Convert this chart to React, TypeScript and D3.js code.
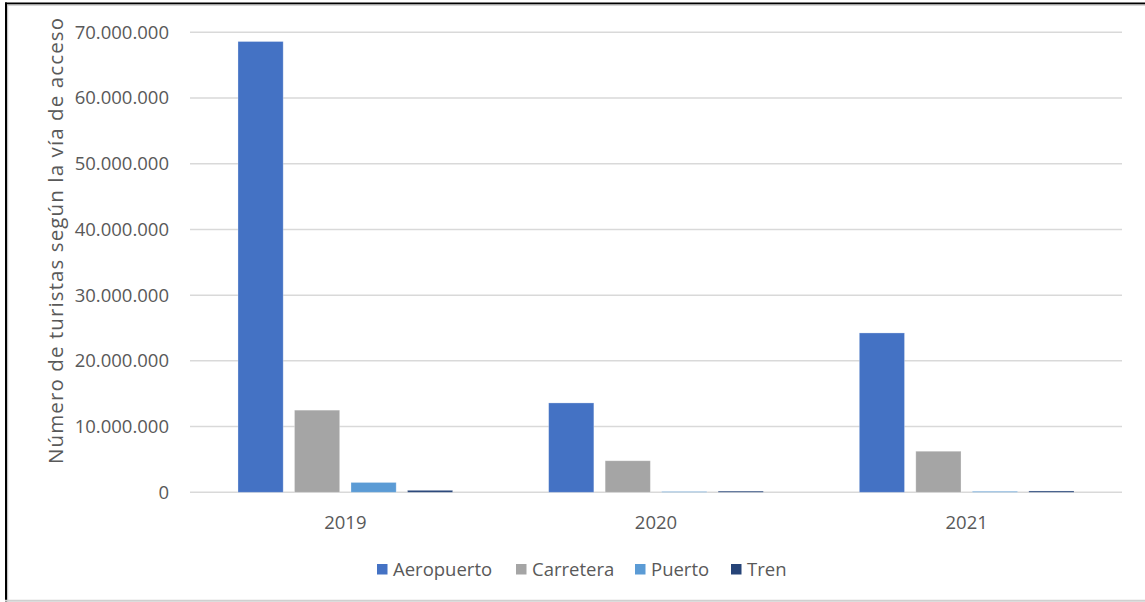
import React from "react";
import * as d3 from "d3";

const years = ["2019", "2020", "2021"];
const seriesNames = ["Aeropuerto", "Carretera", "Puerto", "Tren"];
const aeropuerto = [68600000, 13600000, 24250000];
const carretera = [12500000, 4800000, 6250000];
const puerto = [1500000, 120000, 150000];
const tren = [300000, 180000, 200000];
const yTicks = [0, 10000000, 20000000, 30000000, 40000000, 50000000, 60000000, 70000000];
const colors = ["#4472C4", "#A5A5A5", "#5B9BD5", "#264478"];
const yTitle = "Número de turistas según la vía de acceso";

const W = 1145;
const H = 602;
const plot = { left: 190, right: 1122, top: 32.3, bottom: 492.3 };
const font = "'Open Sans', 'Liberation Sans', sans-serif";
const textColor = "#595959";

export default function App() {
  const values = [aeropuerto, carretera, puerto, tren];
  const x0 = d3.scaleBand<string>().domain(years).range([plot.left, plot.right]).padding(0);
  const groupW = 214.7;
  const off = (x0.bandwidth() - groupW) / 2;
  const x1 = d3
    .scaleBand<string>()
    .domain(seriesNames)
    .range([off, off + groupW])
    .paddingInner(0.2)
    .paddingOuter(0);
  const y = d3.scaleLinear().domain([0, 70000000]).range([plot.bottom, plot.top]);
  const fmt = (v: number) =>
    v === 0 ? "0" : d3.format(",")(v).replace(/,/g, ".");

  const legendX = [377, 516, 635, 731];

  return (
    <svg
      width={W}
      height={H}
      style={{ position: "absolute", left: 0, top: 0, background: "#fff" }}
      fontFamily={font}
    >
      <rect x={0} y={0} width={W} height={H} fill="#fff" />
      {/* frame */}
      <line x1={5} x2={W} y1={3.5} y2={3.5} stroke="#000" strokeWidth={2} />
      <line x1={7} x2={W} y1={5.2} y2={5.2} stroke="#c8c8c8" strokeWidth={1.2} />
      <line x1={6} x2={6} y1={2.5} y2={H} stroke="#000" strokeWidth={2} />
      <line x1={7.6} x2={7.6} y1={5} y2={H} stroke="#c8c8c8" strokeWidth={1.2} />
      <line x1={5} x2={W} y1={600.8} y2={600.8} stroke="#d0d0d0" strokeWidth={2} />

      {/* gridlines */}
      {yTicks.map((t) => (
        <g key={t}>
          <line
            x1={plot.left}
            x2={plot.right}
            y1={y(t)}
            y2={y(t)}
            stroke="#d9d9d9"
            strokeWidth={1.5}
          />
          <text
            x={169}
            y={y(t)}
            dy="0.35em"
            textAnchor="end"
            fontSize={18.5}
            fill={textColor}
          >
            {fmt(t)}
          </text>
        </g>
      ))}

      {/* bars */}
      {years.map((yr, i) => (
        <g key={yr} transform={`translate(${x0(yr)},0)`}>
          {seriesNames.map((s, j) => {
            const v = values[j][i];
            return (
              <rect
                key={s}
                x={x1(s)}
                y={y(v)}
                width={x1.bandwidth()}
                height={plot.bottom - y(v)}
                fill={colors[j]}
                stroke="#ffffff"
                strokeOpacity={0.35}
                strokeWidth={0.8}
              />
            );
          })}
          <text
            x={x0.bandwidth() / 2}
            y={529}
            textAnchor="middle"
            fontSize={18.5}
            fill={textColor}
          >
            {yr}
          </text>
        </g>
      ))}

      {/* y title */}
      <text
        transform={`translate(63,241) rotate(-90)`}
        textAnchor="middle"
        fontSize={20.5}
        textLength={446}
        lengthAdjust="spacing"
        fill={textColor}
      >
        {yTitle}
      </text>

      {/* legend */}
      {seriesNames.map((s, j) => (
        <g key={s}>
          <rect x={legendX[j]} y={564} width={10.5} height={10.5} fill={colors[j]} />
          <text x={legendX[j] + 16} y={569.5} dy="0.35em" fontSize={18.5} fill={textColor}>
            {s}
          </text>
        </g>
      ))}
    </svg>
  );
}
